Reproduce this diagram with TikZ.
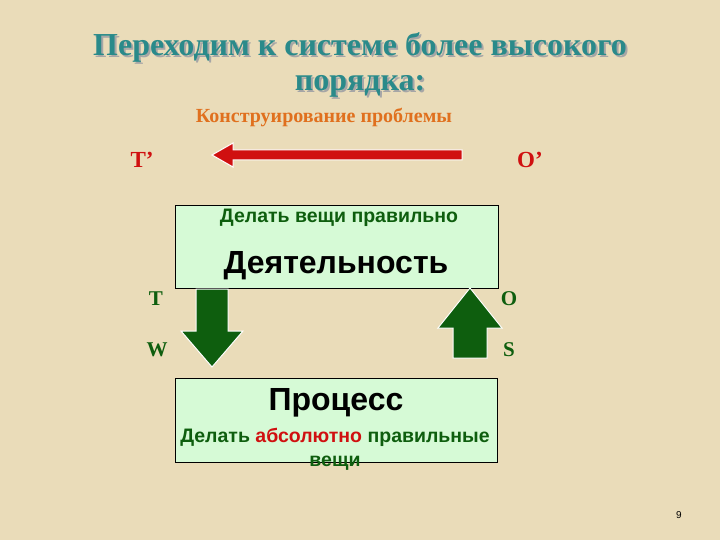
\documentclass[tikz,border=0pt]{standalone}
\usepackage{fontspec}
\setmainfont{Liberation Serif}
\newfontfamily\sans{Liberation Sans}
\begin{document}
\begin{tikzpicture}[x=1pt,y=-1pt]
\definecolor{bg}{HTML}{EADCB9}
\definecolor{teal1}{HTML}{2A8A8A}
\definecolor{orange1}{HTML}{E0701E}
\definecolor{red1}{HTML}{D01010}
\definecolor{dgreen}{HTML}{0E5E0E}
\definecolor{boxg}{HTML}{D6FAD6}
\tikzset{boxn/.style={draw=black,fill=boxg,line width=0.8pt},
lbl/.style={font=\bfseries\fontsize{21}{23}\selectfont,text=dgreen},
lblr/.style={font=\bfseries\fontsize{23}{25}\selectfont,text=red1},
garrow/.style={fill=dgreen,draw=white,line width=1pt}}
\fill[bg] (0,0) rectangle (720,540);
\useasboundingbox (0,0) rectangle (720,540);
\node[font=\bfseries\fontsize{32}{35}\selectfont,text=black!35,align=center] at (362,67) {Переходим к системе более высокого\\порядка:};
\node (title)[font=\bfseries\fontsize{32}{35}\selectfont,text=teal1,align=center] at (360,65) {Переходим к системе более высокого\\порядка:};
\node (sub)[font=\bfseries\fontsize{20}{22}\selectfont,text=orange1] at (324,118) {Конструирование проблемы};
\node (tp)[lblr] at (142,160) {T’};
\node (op)[lblr] at (530,160) {O’};
\fill[red1,draw=white,line width=1pt] (462,150)--(233,150)--(233,143)--(212,155)--(233,167)--(233,160)--(462,160)--cycle;
\node (act)[boxn,minimum width=323pt,minimum height=83pt,anchor=north west] at (175,205) {};
\node[font=\sans\bfseries\fontsize{19.5}{22}\selectfont,text=dgreen] at (339,218) {Делать вещи правильно};
\node[font=\sans\bfseries\fontsize{32}{34}\selectfont] at (336,266) {Деятельность};
\node (proc)[boxn,minimum width=322pt,minimum height=84pt,anchor=north west] at (175,378) {};
\node[font=\sans\bfseries\fontsize{32}{34}\selectfont] at (336,403) {Процесс};
\node[font=\sans\bfseries\fontsize{19.5}{24}\selectfont,text=dgreen,align=center] at (335,449) {Делать \textcolor{red1}{абсолютно} правильные\\вещи};
\draw[garrow] (196,289)--(228,289)--(228,331)--(243,331)--(212,367)--(181,331)--(196,331)--cycle;
\draw[garrow] (453,358)--(487,358)--(487,328)--(502,328)--(470,288)--(438,328)--(453,328)--cycle;
\node (t)[lbl] at (156,299) {T};
\node (w)[lbl] at (157,350) {W};
\node (o)[lbl] at (509,299) {O};
\node (s)[lbl] at (509,350) {S};
\node (pg)[font=\sans\fontsize{10}{12}\selectfont] at (679,515) {9};
\end{tikzpicture}
\end{document}
